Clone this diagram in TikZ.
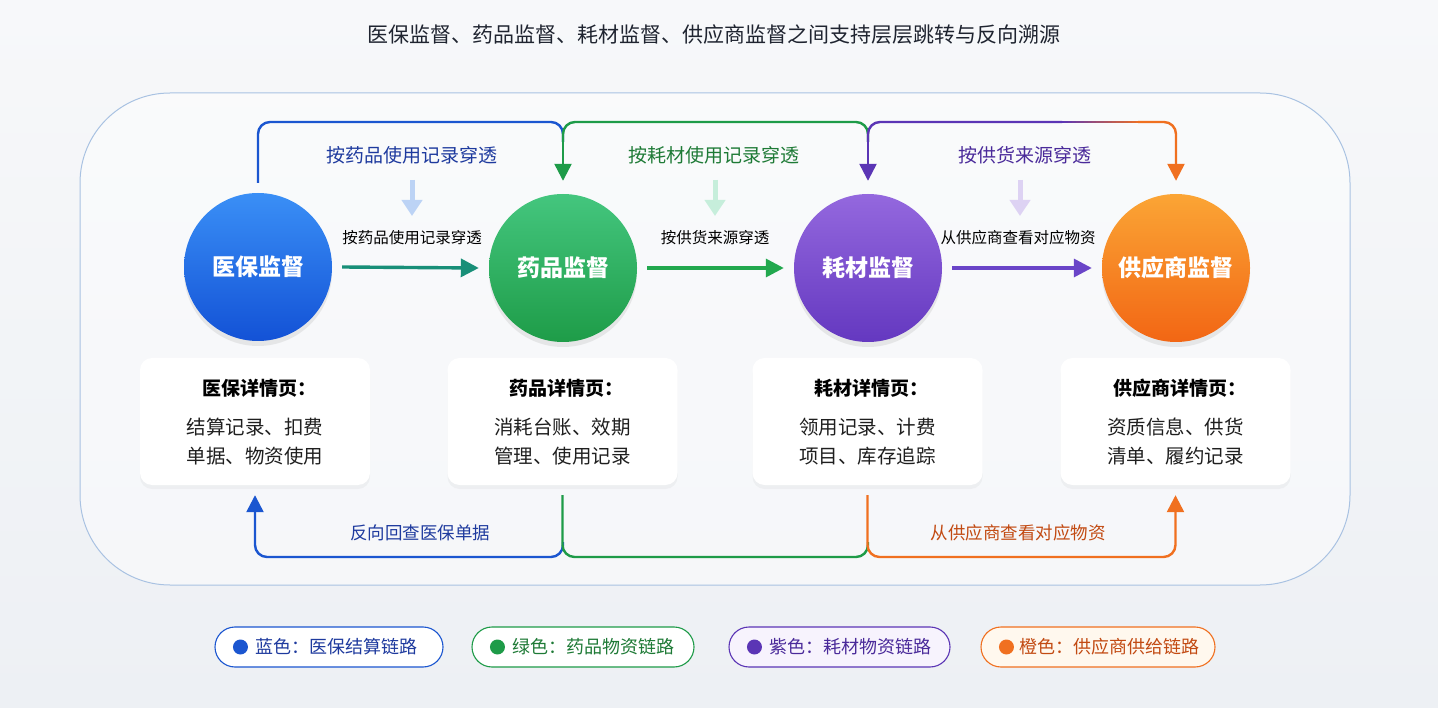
\documentclass[tikz,border=0pt]{standalone}
\usepackage{fontspec}
\setmainfont{Noto Sans CJK SC}
\usetikzlibrary{arrows.meta,shadows,calc}
\definecolor{bgtop}{HTML}{F7F8FA}
\definecolor{bgbot}{HTML}{EDF0F4}
\definecolor{boxline}{HTML}{A9C2E2}
\definecolor{titlec}{HTML}{1F2430}
\definecolor{bline}{HTML}{1B56D0}
\definecolor{gline}{HTML}{1E9B48}
\definecolor{pline}{HTML}{5B35B5}
\definecolor{oline}{HTML}{F07020}
\definecolor{btext}{HTML}{1E3A9E}
\definecolor{gtext}{HTML}{1E7A36}
\definecolor{ptext}{HTML}{4A2A9A}
\definecolor{otext}{HTML}{C24A12}
\definecolor{bA}{HTML}{3A8FF6}\definecolor{bB}{HTML}{1352D6}
\definecolor{gA}{HTML}{44C67E}\definecolor{gB}{HTML}{1E9C48}
\definecolor{pA}{HTML}{9468DE}\definecolor{pB}{HTML}{6438C0}
\definecolor{oA}{HTML}{FBA535}\definecolor{oB}{HTML}{F26614}
\definecolor{teal}{HTML}{188F78}
\definecolor{harrg}{HTML}{22A84E}
\definecolor{harrp}{HTML}{6A45C8}
\definecolor{fadeb}{HTML}{BCD3F5}
\definecolor{fadeg}{HTML}{C6EEDB}
\definecolor{fadep}{HTML}{DDD2F3}
\definecolor{lav}{HTML}{F7F3FD}
\definecolor{cream}{HTML}{FFF8EE}
\tikzset{
  bubble/.style={circle, minimum size=148pt, inner sep=0pt, text=white,
    font=\fontsize{23}{27}\selectfont\bfseries, shading angle=30,
    drop shadow={opacity=0.15, shadow xshift=0pt, shadow yshift=-5pt}},
  card/.style={fill=white, rounded corners=12pt, minimum width=230pt, minimum height=127pt,
    drop shadow={opacity=0.07, shadow xshift=0pt, shadow yshift=-4pt}},
  cardtitle/.style={font=\fontsize{19}{23}\selectfont\bfseries, text=black},
  cardbody/.style={font=\fontsize{19.5}{29}\selectfont, text=black!88, align=center},
  alabel/.style={font=\fontsize{15.5}{18}\selectfont, text=black},
  tlabel/.style={font=\fontsize{19}{22}\selectfont},
  conn/.style={line width=2.4pt, rounded corners=12pt},
  tip/.style={-{Triangle[length=17pt,width=17pt]}},
  harrow/.style={line width=3.4pt, -{Triangle[length=18pt,width=18pt]}},
  fade/.style={line width=5pt, -{Triangle[length=16pt,width=20pt]}},
  pill/.style={rounded corners=20pt, minimum width=#1, minimum height=40pt, line width=1.1pt},
  legtext/.style={font=\fontsize{18}{21}\selectfont, anchor=west},
}
\begin{document}
\begin{tikzpicture}[x=1pt,y=-1pt]
\useasboundingbox (0,0) rectangle (1438,708);
\shade[top color=bgtop, bottom color=bgbot] (0,0) rectangle (1438,708);
% title
\node[font=\fontsize{21}{25}\selectfont, text=titlec] (title) at (714,35) {医保监督、药品监督、耗材监督、供应商监督之间支持层层跳转与反向溯源};
% frame
\draw[boxline, line width=1pt, fill=white, fill opacity=0.45, rounded corners=90pt] (80,93) rectangle (1350,585);
% circles
\node[bubble, top color=bA, bottom color=bB] (c1) at (258,267) {医保监督};
\node[bubble, top color=gA, bottom color=gB] (c2) at (563,268) {药品监督};
\node[bubble, top color=pA, bottom color=pB] (c3) at (868,268) {耗材监督};
\node[bubble, top color=oA, bottom color=oB] (c4) at (1176,268) {供应商监督};
% horizontal arrows
\draw[harrow, teal] ([xshift=10pt]c1.east) -- ([xshift=-10pt]c2.west);
\draw[harrow, harrg] ([xshift=10pt]c2.east) -- ([xshift=-10pt]c3.west);
\draw[harrow, harrp] ([xshift=10pt]c3.east) -- ([xshift=-10pt]c4.west);
\node[alabel] (a1) at (412,238) {按药品使用记录穿透};
\node[alabel] (a2) at (715,238) {按供货来源穿透};
\node[alabel] (a3) at (1018,238) {从供应商查看对应物资};
% faded arrows
\draw[fade, fadeb] (412,180) -- (412,216);
\draw[fade, fadeg] (715,180) -- (715,216);
\draw[fade, fadep] (1020,180) -- (1020,216);
% top labels
\node[tlabel, text=btext] (u1) at (412,155) {按药品使用记录穿透};
\node[tlabel, text=gtext] (u2) at (714,155) {按耗材使用记录穿透};
\node[tlabel, text=ptext] (u3) at (1025,155) {按供货来源穿透};
% top connectors
\coordinate (j1) at (563,122);
\coordinate (j2) at (868,122);
\coordinate (j3) at (1176,122);
\draw[conn, bline] ([yshift=10pt]c1.north) -- (c1.north |- j1) -- (j1) -- ++(0,20);
\draw[conn, gline] ($(j1)+(0,20)$) -- (j1) -- (j2) -- ++(0,20);
\draw[conn, gline, tip] ($(j1)+(0,10)$) -- ([yshift=13pt]c2.north);
\draw[conn, pline] ($(j2)+(0,20)$) -- (j2) -- (1062,122);
\draw[conn, pline, tip] ($(j2)+(0,10)$) -- ([yshift=13pt]c3.north);
\foreach \k in {0,...,19}{
  \pgfmathsetmacro{\pc}{100-5*\k}
  \draw[line width=2.4pt, pline!\pc!oline] (1060+4*\k,122) -- (1065+4*\k,122);
}
\draw[conn, oline, tip] (1138,122) -- (j3) -- ([yshift=13pt]c4.north);
% cards
\node[card] (d1) at (255,421.5) {};
\node[card] (d2) at (562.5,421.5) {};
\node[card] (d3) at (867.5,421.5) {};
\node[card] (d4) at (1175.5,421.5) {};
\node[cardtitle] (d1t) at ($(d1.center)+(4,-33)$) {医保详情页：};
\node[cardtitle] (d2t) at ($(d2.center)+(4,-33)$) {药品详情页：};
\node[cardtitle] (d3t) at ($(d3.center)+(4,-33)$) {耗材详情页：};
\node[cardtitle] (d4t) at ($(d4.center)+(4,-33)$) {供应商详情页：};
\node[cardbody] (d1b) at ($(d1.center)+(0,20)$) {结算记录、扣费\\单据、物资使用};
\node[cardbody] (d2b) at ($(d2.center)+(0,20)$) {消耗台账、效期\\管理、使用记录};
\node[cardbody] (d3b) at ($(d3.center)+(0,20)$) {领用记录、计费\\项目、库存追踪};
\node[cardbody] (d4b) at ($(d4.center)+(0,20)$) {资质信息、供货\\清单、履约记录};
% bottom connectors
\coordinate (b1) at (563,557);
\coordinate (b2) at (868,557);
\draw[conn, bline, tip] ($(b1)+(0,-15)$) -- (b1) -- (d1.south |- b1) -- ([yshift=-10pt]d1.south);
\draw[conn, gline] ([yshift=-10pt]d2.south) -- (d2.south |- b1) -- (b2) -- ++(0,-15);
\draw[conn, oline, tip] ([yshift=-10pt]d3.south) -- (d3.south |- b2) -- (d4.south |- b2) -- ([yshift=-10pt]d4.south);
\node[tlabel, font=\fontsize{17.5}{21}\selectfont, text=btext] (bl1) at (420,533) {反向回查医保单据};
\node[tlabel, font=\fontsize{17.5}{21}\selectfont, text=otext] (bl2) at (1018,533) {从供应商查看对应物资};
% legend
\node[pill=228pt, draw=bline, fill=white] (p1) at (329,647) {};
\node[pill=222pt, draw=gline, fill=white] (p2) at (583,647) {};
\node[pill=221pt, draw=pline, fill=lav] (p3) at (839.5,647) {};
\node[pill=234pt, draw=oline, fill=cream] (p4) at (1098,647) {};
\fill[bline] ($(p1.west)+(26,0)$) circle (7.5pt);
\fill[gline] ($(p2.west)+(26,0)$) circle (7.5pt);
\fill[pline] ($(p3.west)+(26,0)$) circle (7.5pt);
\fill[oline] ($(p4.west)+(26,0)$) circle (7.5pt);
\node[legtext, text=btext] (q1) at ($(p1.west)+(38,0)$) {蓝色：医保结算链路};
\node[legtext, text=gtext] (q2) at ($(p2.west)+(38,0)$) {绿色：药品物资链路};
\node[legtext, text=ptext] (q3) at ($(p3.west)+(38,0)$) {紫色：耗材物资链路};
\node[legtext, text=otext] (q4) at ($(p4.west)+(36,0)$) {橙色：供应商供给链路};
\end{tikzpicture}
\end{document}
